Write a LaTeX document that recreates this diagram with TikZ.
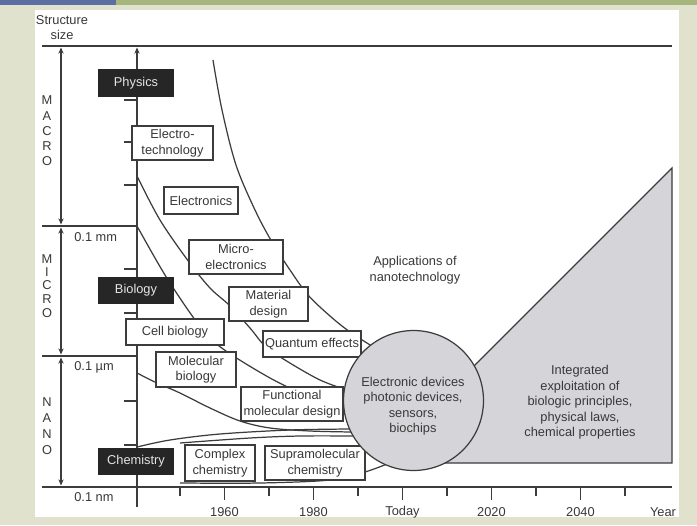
\documentclass[tikz,border=0pt]{standalone}
\usepackage{fontspec}
\setmainfont{Liberation Sans}
\usetikzlibrary{arrows.meta}
\definecolor{bgc}{HTML}{E0E2CE}
\definecolor{barblue}{HTML}{5B6FA3}
\definecolor{bargreen}{HTML}{A7B67C}
\definecolor{linec}{HTML}{3C3C3C}
\definecolor{txtc}{HTML}{383838}
\definecolor{boxblk}{HTML}{262626}
\definecolor{grayfill}{HTML}{D5D5D9}
\begin{document}
\begin{tikzpicture}[x=0.02cm,y=-0.02cm, font=\fontsize{7.3}{8.8}\selectfont, text=txtc,
 ln/.style={draw=linec, line width=0.7pt},
 wbox/.style={draw=linec, fill=white, line width=0.7pt, inner sep=0pt, outer sep=0pt, align=center},
 bbox/.style={fill=boxblk, text=white!90!black, inner sep=0pt, minimum width=1.52cm, minimum height=0.55cm},
 lbl/.style={inner sep=0pt, align=center},
 tip/.style={-{Stealth[length=3.5pt,width=3pt]}},
 dtip/.style={{Stealth[length=3.5pt,width=3pt]}-{Stealth[length=3.5pt,width=3pt]}},
]
\useasboundingbox (0,0) rectangle (697,525);
% background
\fill[bgc] (0,0) rectangle (697,525);
\fill[white] (35,10) rectangle (679,517);
\fill[barblue] (0,0) rectangle (116,5);
\fill[bargreen] (116,0) rectangle (697,5);

% header
\node[lbl] (st1) at (62,20) {Structure};
\node[lbl] (st2) at (62,35) {size};

% frame lines
\draw[ln] (42,46) -- (672,46);
\draw[ln] (42,226) -- (137,226);
\draw[ln] (42,356) -- (137,356);
\draw[ln] (42,487) -- (672,487);

% size range arrows
\draw[ln,dtip] (61,47.5) -- (61,224.5);
\draw[ln,dtip] (61,227.5) -- (61,354.5);
\draw[ln,dtip] (61,357.5) -- (61,485.5);

% letters
\foreach \l/\y in {M/100,A/116,C/131,R/146,O/161} \node[lbl] at (47,\y) {\l};
\foreach \l/\y in {M/259,I/272,C/285,R/299,O/313} \node[lbl] at (47,\y) {\l};
\foreach \l/\y in {N/402,A/418,N/434,O/450} \node[lbl] at (47,\y) {\l};

\node[lbl,anchor=west] (mm) at (74,237) {0.1 mm};
\node[lbl,anchor=west] (um) at (74,367) {0.1 µm};
\node[lbl,anchor=west] (nm) at (74,497) {0.1 nm};

% main vertical axis
\draw[ln,tip] (137,507) -- (137,47.5);
\foreach \y in {100,142,185,269,313,401,445} \draw[ln] (124,\y) -- (137,\y);

% time axis ticks
\foreach \x in {180,269,358,447,536,625} \draw[ln] (\x,487) -- (\x,496);
\foreach \x in {224.5,313.5,402.5,491.5,580.5} \draw[ln] (\x,487) -- (\x,500);
\node[lbl] (t1) at (224.5,512) {1960};
\node[lbl] (t2) at (313.5,512) {1980};
\node[lbl] (t3) at (402.5,512) {Today};
\node[lbl] (t4) at (491.5,512) {2020};
\node[lbl] (t5) at (580.5,512) {2040};
\node[lbl] (t6) at (663,512) {Year};

% curves
\draw[ln] plot[smooth, tension=0.55] coordinates {(213,60) (222,110) (236,165) (255,210) (272,242) (290,270) (308,295) (330,316) (350,332) (375,348)};
\draw[ln] plot[smooth, tension=0.55] coordinates {(137,176) (160,220) (189,262) (210,288) (229,305) (250,328) (265,346) (285,360) (320,380) (350,391)};
\draw[ln] plot[smooth, tension=0.55] coordinates {(137,226) (165,275) (193,317) (212,340) (235,357) (270,378) (300,393) (330,408) (350,416)};
\draw[ln] plot[smooth, tension=0.55] coordinates {(137,373) (157,383) (180,393) (210,408) (240,421) (270,428) (310,431) (352,432)};
\draw[ln] plot[smooth, tension=0.55] coordinates {(137,447) (170,440) (220,434) (290,430) (352,429)};
\draw[ln] plot[smooth, tension=0.55] coordinates {(180,443) (250,438) (300,436) (355,436)};
\draw[ln] plot[smooth, tension=0.55] coordinates {(180,483) (260,483) (330,480) (365,472) (392,462)};

% gray region
\fill[grayfill] (413,463) -- (672,463) -- (672,168) -- (440,400) -- cycle;
\draw[ln] (440,400) -- (672,168) -- (672,463) -- (413,463);

% boxes
\node[bbox] (phys) at (136,83) {Physics};
\node[bbox] (bio) at (136,290.5) {Biology};
\node[bbox] (chem) at (136,461.5) {Chemistry};
\node[wbox, minimum width=1.62cm, minimum height=0.68cm] (etech) at (172.5,143) {Electro-\\technology};
\node[wbox, minimum width=1.48cm, minimum height=0.54cm] (elec) at (201,200.5) {Electronics};
\node[wbox, minimum width=1.88cm, minimum height=0.68cm] (micro) at (236,257) {Micro-\\electronics};
\node[wbox, minimum width=1.58cm, minimum height=0.68cm] (mat) at (268.5,304) {Material\\design};
\node[wbox, minimum width=1.96cm, minimum height=0.52cm] (cell) at (175,332) {Cell biology};
\node[wbox, minimum width=1.96cm, minimum height=0.52cm] (quant) at (312,344) {Quantum effects};
\node[wbox, minimum width=1.60cm, minimum height=0.70cm] (molb) at (196,369.5) {Molecular\\biology};
\node[wbox, minimum width=2.04cm, minimum height=0.68cm] (func) at (292,404) {Functional\\molecular design};
\node[wbox, minimum width=1.40cm, minimum height=0.72cm] (cplx) at (220,463) {Complex\\chemistry};
\node[wbox, minimum width=2.00cm, minimum height=0.68cm] (supra) at (315,463) {Supramolecular\\chemistry};

% circle
\node[circle, draw=linec, fill=grayfill, line width=0.7pt, minimum size=2.8cm, inner sep=0pt] (dev) at (413.5,400.5) {};
\node[lbl] (devtxt) at (413,406) {Electronic devices\\photonic devices,\\sensors,\\biochips};

% texts
\node[lbl] (appl) at (415,270) {Applications of\\nanotechnology};
\node[lbl, text depth=0pt] (integ) at (580,401) {Integrated\\exploitation of\\biologic principles,\\physical laws,\\chemical properties};
\end{tikzpicture}
\end{document}
